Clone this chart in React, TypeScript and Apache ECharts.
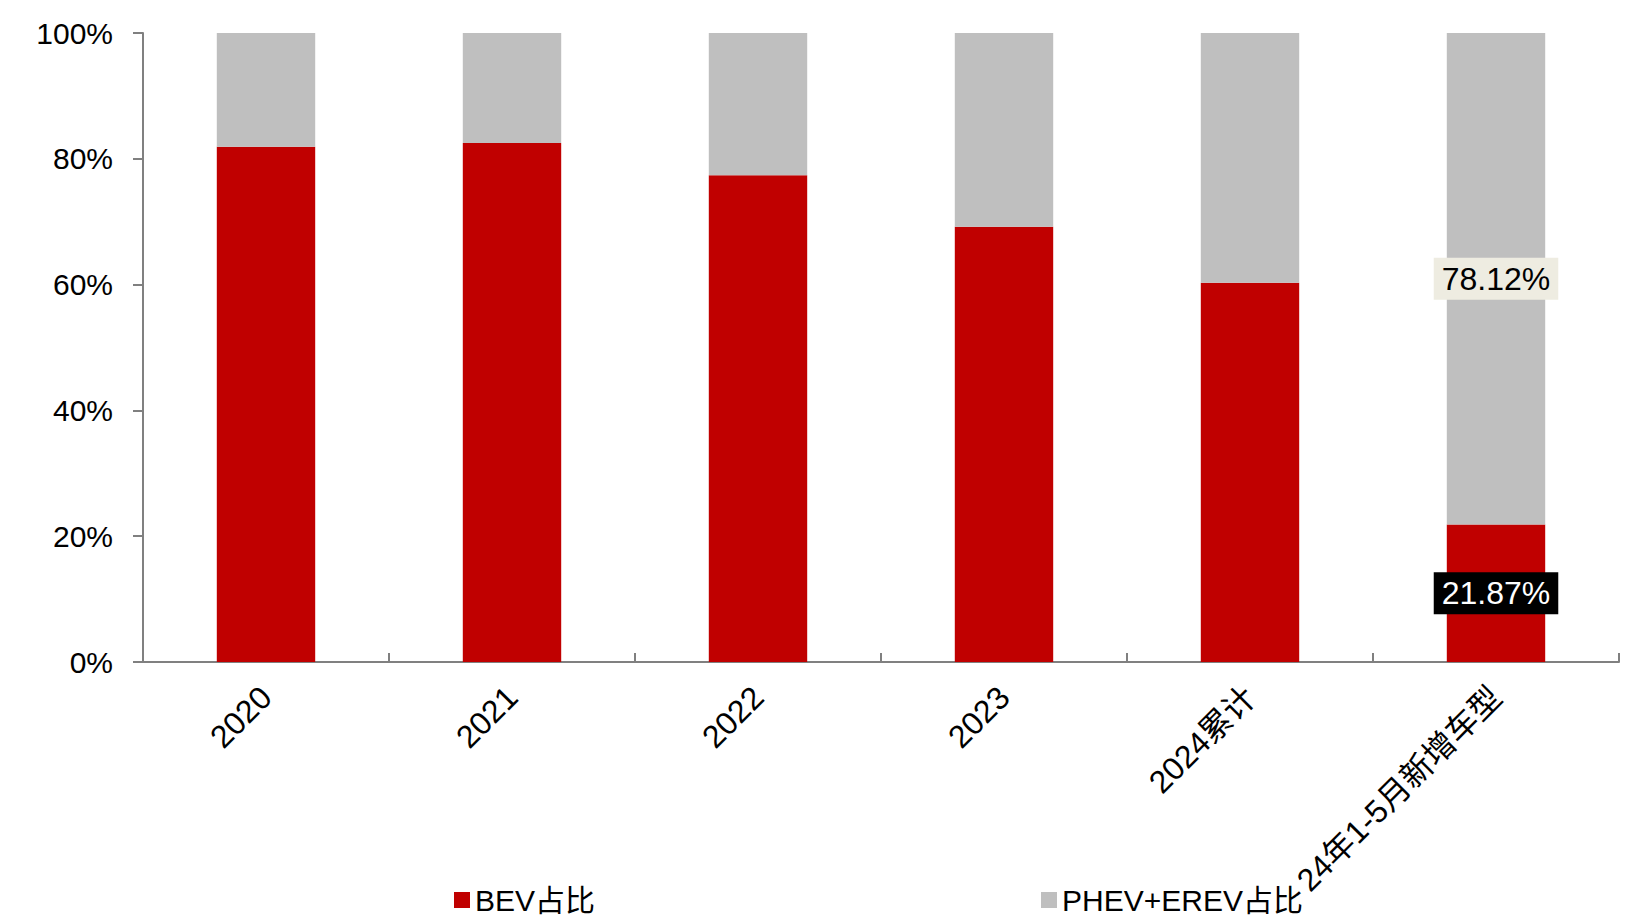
import React, { useEffect, useRef } from "react";
import * as echarts from "echarts";

// Categories and shares (in %)
const categories = ["2020", "2021", "2022", "2023", "2024累计", "24年1-5月新增车型"];
const bevShare = [81.9, 82.5, 77.4, 69.2, 60.3, 21.87];
const phevErevShare = [18.1, 17.5, 22.6, 30.8, 39.7, 78.12];
const yTicks = { min: 0, max: 100, interval: 20 };

const FONT = '"Liberation Sans", Arial, "Noto Sans CJK SC", sans-serif';
const RED = "#C00000";
const GREY = "#BFBFBF";
const AXIS = "#808080";

export default function App() {
  const ref = useRef<HTMLDivElement>(null);

  useEffect(() => {
    if (!ref.current) return;
    const chart = echarts.init(ref.current, null, { renderer: "svg" });
    const last = categories.length - 1;

    const valueLabel = (v: number, color: string, bg: string) => ({
      show: true,
      position: "inside",
      formatter: `${v.toFixed(2)}%`,
      color,
      backgroundColor: bg,
      fontSize: 32,
      fontFamily: FONT,
      padding: [5, 8],
    });

    const bevData = bevShare.map((v, i) =>
      i === last ? { value: v, label: valueLabel(v, "#FFFFFF", "#000000") } : v
    );
    const phevData = phevErevShare.map((v, i) =>
      i === last ? { value: v, label: valueLabel(v, "#000000", "#EEECE1") } : v
    );

    const legendText = { fontSize: 30, lineHeight: 32, fontFamily: FONT, color: "#000" };

    chart.setOption({
      animation: false,
      backgroundColor: "#FFFFFF",
      grid: { left: 143, right: 8, top: 33, bottom: 256, containLabel: false },
      legend: [
        {
          data: ["BEV占比"],
          left: 454,
          top: 884,
          padding: 0,
          icon: "rect",
          itemWidth: 16,
          itemHeight: 16,
          textStyle: legendText,
        },
        {
          data: ["PHEV+EREV占比"],
          left: 1041,
          top: 884,
          padding: 0,
          icon: "rect",
          itemWidth: 16,
          itemHeight: 16,
          textStyle: legendText,
        },
      ],
      xAxis: {
        type: "category",
        data: categories,
        axisLine: { lineStyle: { color: AXIS, width: 2 } },
        axisTick: { show: true, inside: true, length: 9, lineStyle: { color: AXIS, width: 2 } },
        axisLabel: {
          interval: 0,
          rotate: 45,
          margin: 30,
          fontSize: 32,
          fontFamily: FONT,
          color: "#000",
        },
        splitLine: { show: false },
      },
      yAxis: {
        type: "value",
        min: yTicks.min,
        max: yTicks.max,
        interval: yTicks.interval,
        axisLine: { show: true, lineStyle: { color: AXIS, width: 2 } },
        axisTick: { show: true, length: 10, lineStyle: { color: AXIS, width: 2 } },
        axisLabel: {
          formatter: "{value}%",
          margin: 30,
          fontSize: 30,
          fontFamily: FONT,
          color: "#000",
        },
        splitLine: { show: false },
      },
      series: [
        {
          name: "BEV占比",
          type: "bar",
          stack: "share",
          barWidth: "40%",
          itemStyle: { color: RED },
          data: bevData,
        },
        {
          name: "PHEV+EREV占比",
          type: "bar",
          stack: "share",
          barWidth: "40%",
          itemStyle: { color: GREY },
          data: phevData,
        },
      ],
    });

    return () => chart.dispose();
  }, []);

  return (
    <div
      ref={ref}
      style={{ position: "fixed", left: 0, top: 0, width: 1627, height: 918 }}
    />
  );
}
